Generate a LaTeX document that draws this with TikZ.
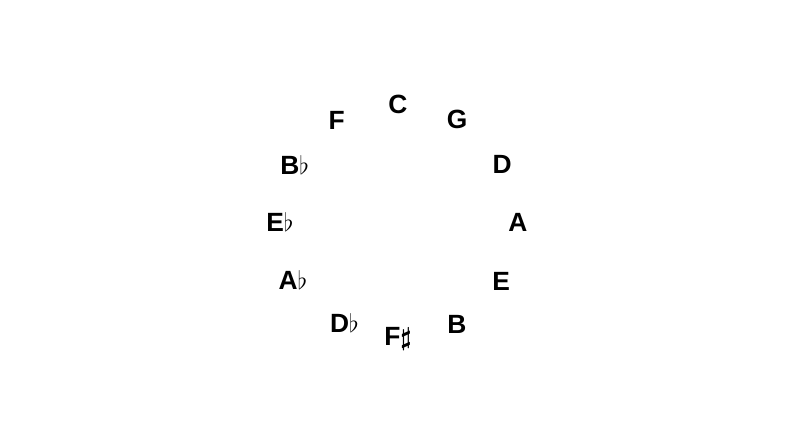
\documentclass[tikz,border=0pt]{standalone}
\usepackage{amsmath}
\usepackage{amssymb}
\usepackage{fontspec}
\setmainfont{Liberation Sans}
\usepackage{tikz}
\usetikzlibrary{positioning, calc}

\newcommand{\boldsharp}{\ensuremath{\boldsymbol{\sharp}}}

\begin{document}
\begin{tikzpicture}[
    note/.style={font=\fontsize{15}{17}\selectfont\bfseries, inner sep=0pt}
]
    \useasboundingbox (0, 0) rectangle (15.96, 8.92);

    % Centre of the circle
    \coordinate (centre) at (7.96, 4.48);

    % Circle of fifths
    \foreach \name/\ang/\rad/\lab in {C/90/2.36/C, G/60/2.36/G, D/29/2.38/D, A/0/2.4/A,
        E/-30/2.38/E, B/-60/2.36/B, Fs/-90/2.34/F\boldsharp, Db/-118/2.28/D$\flat$,
        Ab/-151/2.4/A$\flat$, Eb/180/2.36/E$\flat$, Bb/151/2.36/B$\flat$, F/121/2.38/F}
        \node[note] (\name) at ($(centre)+(\ang:\rad)$) {\lab};

\end{tikzpicture}
\end{document}
